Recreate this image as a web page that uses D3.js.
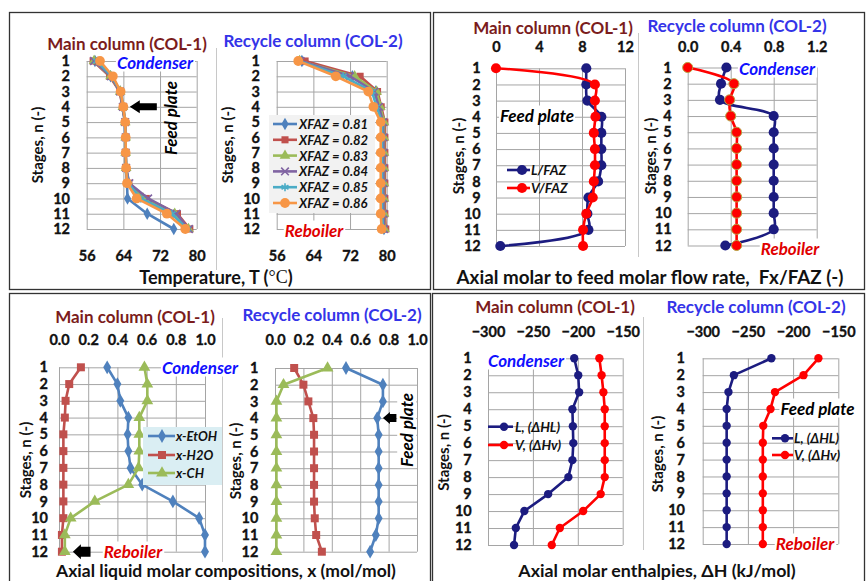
<!DOCTYPE html>
<html>
<head>
<meta charset="utf-8">
<script src="https://cdn.jsdelivr.net/npm/d3@7"></script>
<style>
  body { margin: 0; background: #fff; }
  svg { display: block; font-family: Lato, "Open Sans", sans-serif; font-weight: bold; }
</style>
</head>
<body>
<div id="chart"></div>
<script>
const stages = [1, 2, 3, 4, 5, 6, 7, 8, 9, 10, 11, 12];

// temperature profiles, one list per feed composition
const xfazNames = ["XFAZ = 0.81", "XFAZ = 0.82", "XFAZ = 0.83", "XFAZ = 0.84", "XFAZ = 0.85", "XFAZ = 0.86"];
const tempCol1 = [
  [57.8, 61.2, 63.3, 63.8, 64.3, 64.4, 64.4, 64.5, 64.8, 64.9, 69.2, 75.0],
  [57.4, 61.0, 63.2, 63.8, 64.4, 64.5, 64.5, 64.6, 65.2, 69.0, 75.8, 78.5],
  [57.6, 61.2, 63.3, 63.9, 64.4, 64.5, 64.5, 64.6, 65.1, 68.3, 75.2, 78.2],
  [57.6, 61.3, 63.3, 63.9, 64.4, 64.5, 64.5, 64.6, 65.3, 69.4, 75.6, 78.3],
  [58.2, 61.5, 63.4, 64.0, 64.4, 64.5, 64.5, 64.6, 65.0, 67.8, 74.6, 77.9],
  [58.9, 61.7, 63.4, 64.0, 64.4, 64.5, 64.5, 64.6, 64.8, 66.9, 73.5, 77.5]
];
const tempCol2 = [
  [61.5, 72.5, 77.6, 78.5, 79.2, 79.3, 79.3, 79.3, 79.3, 79.3, 79.3, 79.4],
  [62.2, 74.2, 78.0, 78.8, 79.6, 79.6, 79.6, 79.6, 79.6, 79.6, 79.6, 79.8],
  [61.0, 73.0, 77.8, 78.6, 79.4, 79.4, 79.4, 79.4, 79.4, 79.4, 79.4, 79.5],
  [61.2, 72.0, 77.3, 78.3, 79.2, 79.3, 79.3, 79.3, 79.3, 79.3, 79.3, 79.4],
  [60.8, 70.5, 76.8, 77.8, 79.0, 79.0, 79.0, 79.0, 79.0, 79.0, 79.0, 79.2],
  [60.7, 68.9, 76.0, 77.1, 78.7, 78.7, 78.7, 78.7, 78.7, 78.7, 78.7, 78.9]
];
const tempTicks = [56, 64, 72, 80];

// flow ratios
const lFazCol1 = [8.4, 8.4, 8.5, 9.8, 9.8, 9.8, 9.8, 9.5, 8.6, 8.5, 8.6, 0.4];
const vFazCol1 = [0.0, 9.2, 9.2, 9.25, 9.1, 9.2, 9.2, 9.1, 9.0, 8.4, 8.1, 8.1];
const lFazCol2 = [0.36, 0.31, 0.30, 0.80, 0.80, 0.80, 0.80, 0.80, 0.80, 0.80, 0.80, 0.35];
const vFazCol2 = [0.0, 0.43, 0.39, 0.40, 0.455, 0.455, 0.455, 0.455, 0.455, 0.455, 0.455, 0.455];
const flowTicksCol1 = [0, 4, 8, 12];
const flowTicksCol2 = [0, 0.4, 0.8, 1.2];

// liquid compositions
const compNames = ["x-EtOH", "x-H2O", "x-CH"];
const xEtohCol1 = [0.33, 0.40, 0.42, 0.475, 0.47, 0.475, 0.49, 0.57, 0.78, 0.96, 1.0, 1.0];
const xH2oCol1 = [0.15, 0.07, 0.045, 0.04, 0.03, 0.03, 0.03, 0.03, 0.03, 0.03, 0.02, 0.02];
const xChCol1 = [0.585, 0.605, 0.605, 0.55, 0.55, 0.55, 0.545, 0.475, 0.245, 0.08, 0.04, 0.04];
const xEtohCol2 = [0.50, 0.76, 0.76, 0.72, 0.73, 0.73, 0.73, 0.73, 0.73, 0.73, 0.71, 0.67];
const xH2oCol2 = [0.135, 0.20, 0.235, 0.27, 0.275, 0.275, 0.275, 0.275, 0.275, 0.28, 0.29, 0.33];
const xChCol2 = [0.37, 0.06, 0.01, 0.01, 0.01, 0.01, 0.01, 0.01, 0.01, 0.01, 0.01, 0.01];
const compTicks = [0, 0.2, 0.4, 0.6, 0.8, 1.0];

// enthalpies
const hLCol1 = [-204, -199.5, -198.5, -206, -205.5, -205, -206, -210.5, -233, -259.5, -269, -271];
const hVCol1 = [-176, -173.5, -171.5, -170, -170, -170, -170, -170, -174.5, -194, -220, -229];
const hLCol2 = [-224, -265.5, -271.5, -273.5, -273.5, -273.5, -273.5, -273.5, -273.5, -273.5, -273.5, -273.5];
const hVCol2 = [-172, -188.5, -220, -225, -233, -233.5, -233.5, -233.5, -233.5, -233.5, -233.5, -233.5];
const hTicks = [-300, -250, -200, -150];

const officeColors = ["#4F81BD", "#C0504D", "#9BBB59", "#8064A2", "#4BACC6", "#F79646"];
const navy = "#1c1c80", red = "#ff0000";
const darkRed = "#7b1c1c", titleBlue = "#3434e8", annBlue = "#1010ff", annRed = "#e00000";
const gridColor = "#a5a5a5";
const tickFs = 14.5;

const svg = d3.select("#chart").append("svg")
  .attr("width", 866)
  .attr("height", 581);

// panel frames
[[9.5, 12.5, 421, 277], [433.5, 12.5, 431, 277], [9.5, 293.5, 421, 300], [432.5, 293.5, 432, 300]].forEach(b => {
  svg.append("rect").attr("x", b[0]).attr("y", b[1]).attr("width", b[2]).attr("height", b[3])
    .attr("fill", "none").attr("stroke", "#333").attr("stroke-width", 1.3);
});
// light separators between the two columns of each panel
[[216.5, 48, 270], [638.5, 33, 257], [222.5, 318, 562], [643.5, 317, 550]].forEach(l => {
  svg.append("line").attr("x1", l[0]).attr("x2", l[0]).attr("y1", l[1]).attr("y2", l[2])
    .attr("stroke", "#c8c8c8");
});

function subplot(o) {
  const x = d3.scaleLinear().domain(o.domain).range([o.left, o.right]);
  const y = d3.scaleLinear().domain([1, 12]).range([o.top, o.bottom]);
  const g = svg.append("g");

  // grid
  g.append("g")
    .attr("transform", `translate(0,${o.top})`)
    .call(d3.axisBottom(x).tickValues(o.ticks).tickSize(o.bottom - o.top).tickFormat(""))
    .call(s => s.select(".domain").remove())
    .selectAll("line").attr("stroke", gridColor);
  g.append("g")
    .attr("transform", `translate(${o.left},0)`)
    .call(d3.axisRight(y).tickValues(stages).tickSize(o.right - o.left).tickFormat(""))
    .call(s => s.select(".domain").remove())
    .selectAll("line").attr("stroke", gridColor);

  // x tick labels
  const pad = o.xTop ? o.top - o.labelY - 0.36 * tickFs : o.labelY - o.bottom - 0.35 * tickFs;
  const xAxis = (o.xTop ? d3.axisTop(x) : d3.axisBottom(x))
    .tickValues(o.ticks).tickSize(0).tickPadding(pad).tickFormat(o.fmt);
  g.append("g")
    .attr("transform", `translate(0,${o.xTop ? o.top : o.bottom})`)
    .call(xAxis)
    .call(s => s.select(".domain").remove())
    .attr("font-family", null).attr("font-size", tickFs)
    .selectAll("text").attr("fill", "#111").attr("stroke", "#111").attr("stroke-width", 0.35);

  // stage labels
  g.append("g")
    .attr("transform", `translate(${o.left},0)`)
    .call(d3.axisLeft(y).tickValues(stages).tickSize(0).tickPadding(o.left - o.yLabelRight))
    .call(s => s.select(".domain").remove())
    .attr("font-family", null).attr("font-size", tickFs)
    .selectAll("text").attr("fill", "#111").attr("stroke", "#111").attr("stroke-width", 0.35);

  // titles
  g.append("text")
    .attr("x", o.titleX).attr("y", o.titleY)
    .attr("text-anchor", "middle").attr("dominant-baseline", "central")
    .attr("font-size", 17).attr("fill", o.titleColor)
    .text(o.title);
  g.append("text")
    .attr("transform", `translate(${o.yTitleX},${o.yTitleY}) rotate(-90)`)
    .attr("text-anchor", "middle").attr("dominant-baseline", "central")
    .attr("font-size", 15).attr("fill", "#111")
    .text("Stages, n (-)");

  return { g, x, y };
}

function series(p, values, color, symbolType, symbolSize, opts = {}) {
  const pts = values.map((v, i) => ({ v, s: stages[i] }));
  const line = d3.line()
    .x(d => p.x(d.v)).y(d => p.y(d.s))
    .curve(opts.smooth ? d3.curveCatmullRom.alpha(0.5) : d3.curveLinear);
  p.g.append("path").datum(pts)
    .attr("d", line)
    .attr("fill", "none").attr("stroke", color).attr("stroke-width", opts.lw || 2.6)
    .attr("stroke-linejoin", "round");
  const stroked = symbolType === d3.symbolX || symbolType === d3.symbolAsterisk;
  p.g.selectAll(null).data(pts).enter().append("path")
    .attr("transform", d => `translate(${p.x(d.v)},${p.y(d.s)})`)
    .attr("d", d3.symbol().type(symbolType).size(symbolSize))
    .attr("fill", stroked ? "none" : color)
    .attr("stroke", stroked ? color : (opts.edge || "none"))
    .attr("stroke-width", stroked ? 1.6 : 1);
}

function note(text, cx, cy, color, opts = {}) {
  const g = svg.append("g").attr("transform", `translate(${cx},${cy}) rotate(${opts.rotate || 0})`);
  const bg = g.append("rect").attr("fill", "#fff");
  const t = g.append("text")
    .attr("text-anchor", "middle").attr("dominant-baseline", "central")
    .attr("font-size", opts.fs || 17).attr("font-style", "italic").attr("fill", color)
    .text(text);
  const b = t.node().getBBox();
  if (opts.bg !== false) {
    bg.attr("x", b.x - 1).attr("y", b.y + 1).attr("width", b.width + 2).attr("height", b.height - 2);
  }
}

function arrow(xTip, xTail, yc, headLen, headH, shaftH) {
  const d = d3.path();
  d.moveTo(xTip, yc);
  d.lineTo(xTip + headLen, yc - headH / 2);
  d.lineTo(xTip + headLen, yc - shaftH / 2);
  d.lineTo(xTail, yc - shaftH / 2);
  d.lineTo(xTail, yc + shaftH / 2);
  d.lineTo(xTip + headLen, yc + shaftH / 2);
  d.lineTo(xTip + headLen, yc + headH / 2);
  d.closePath();
  svg.append("path").attr("d", d.toString()).attr("fill", "#000");
}

function legend(items, box, x0, x1, mx, lx, ys, fs) {
  const g = svg.append("g");
  if (box) {
    g.append("rect").attr("x", box[0]).attr("y", box[1]).attr("width", box[2]).attr("height", box[3])
      .attr("fill", box[4]);
  }
  items.forEach((it, i) => {
    g.append("line").attr("x1", x0).attr("x2", x1).attr("y1", ys[i]).attr("y2", ys[i])
      .attr("stroke", it.color).attr("stroke-width", 2.6);
    const stroked = it.type === d3.symbolX || it.type === d3.symbolAsterisk;
    g.append("path")
      .attr("transform", `translate(${mx},${ys[i]})`)
      .attr("d", d3.symbol().type(it.type).size(it.size))
      .attr("fill", stroked ? "none" : it.color)
      .attr("stroke", stroked ? it.color : (it.edge || "none"))
      .attr("stroke-width", stroked ? 1.6 : 1);
    g.append("text")
      .attr("x", lx).attr("y", ys[i])
      .attr("dominant-baseline", "central")
      .attr("font-size", fs).attr("font-style", "italic").attr("fill", "#111")
      .text(it.name);
  });
}

function axisTitle(text, cx, cy, fs) {
  return svg.append("text").attr("x", cx).attr("y", cy)
    .attr("text-anchor", "middle").attr("dominant-baseline", "central")
    .attr("font-size", fs).attr("fill", "#111").attr("xml:space", "preserve")
    .text(text);
}

const xfazSymbols = [d3.symbolDiamond, d3.symbolSquare, d3.symbolTriangle, d3.symbolX, d3.symbolAsterisk, d3.symbolCircle];
const xfazSizes = [45, 50, 50, 40, 45, 75];

// ---- temperature ----
const t1 = subplot({
  left: 86.7, right: 196.7, top: 61, bottom: 229, domain: [56, 80], ticks: tempTicks,
  fmt: d3.format("d"), xTop: false, labelY: 256, yLabelRight: 70,
  title: "Main column (COL-1)", titleColor: darkRed, titleX: 127, titleY: 43,
  yTitleX: 37, yTitleY: 145
});
tempCol1.forEach((vals, i) => series(t1, vals, officeColors[i], xfazSymbols[i], xfazSizes[i]));
note("Condenser", 155, 62, annBlue);
note("Feed plate", 170, 118, "#000", { rotate: -90, bg: false });
arrow(t1.x(65.4), t1.x(71.3), t1.y(4), 10, 13, 7);

const t2 = subplot({
  left: 276.7, right: 386.7, top: 61, bottom: 229, domain: [56, 80], ticks: tempTicks,
  fmt: d3.format("d"), xTop: false, labelY: 256, yLabelRight: 260,
  title: "Recycle column (COL-2)", titleColor: titleBlue, titleX: 313, titleY: 40,
  yTitleX: 227, yTitleY: 145
});
tempCol2.forEach((vals, i) => series(t2, vals, officeColors[i], xfazSymbols[i], xfazSizes[i]));
legend(xfazNames.map((n, i) => ({ name: n, color: officeColors[i], type: xfazSymbols[i], size: xfazSizes[i] })),
  [269, 115, 106, 98, "#f2f2f2"], 273, 297, 285, 299, d3.range(6).map(i => 124 + i * 15.8), 13);
note("Reboiler", 314, 230, annRed);

const tTitle = axisTitle("", 216, 277, 18);
tTitle.append("tspan").text("Temperature, T (");
tTitle.append("tspan").attr("font-family", "'Liberation Serif', serif").attr("font-weight", "normal").text("°C");
tTitle.append("tspan").text(")");

// ---- flow ratios ----
const f1 = subplot({
  left: 496, right: 625, top: 68.3, bottom: 246, domain: [0, 12], ticks: flowTicksCol1,
  fmt: d3.format("d"), xTop: true, labelY: 47, yLabelRight: 480.7,
  title: "Main column (COL-1)", titleColor: darkRed, titleX: 553, titleY: 27,
  yTitleX: 458, yTitleY: 156
});
series(f1, lFazCol1, navy, d3.symbolCircle, 80, { smooth: true });
series(f1, vFazCol1, red, d3.symbolCircle, 80, { smooth: true });
note("Feed plate", 537, 115, "#000");
legend([{ name: "L/FAZ", color: navy, type: d3.symbolCircle, size: 80 },
        { name: "V/FAZ", color: red, type: d3.symbolCircle, size: 80 }],
  null, 507, 530, 522, 531, [170, 188], 13.5);

const f2 = subplot({
  left: 687.7, right: 816.7, top: 67.5, bottom: 245.5, domain: [0, 1.2], ticks: flowTicksCol2,
  fmt: d3.format(".1f"), xTop: true, labelY: 47, yLabelRight: 671.7,
  title: "Recycle column (COL-2)", titleColor: titleBlue, titleX: 737, titleY: 25,
  yTitleX: 650, yTitleY: 156
});
series(f2, lFazCol2, navy, d3.symbolCircle, 80, { smooth: true });
series(f2, vFazCol2, red, d3.symbolCircle, 80, { smooth: true, edge: "#b8a040" });
note("Condenser", 777, 68, annBlue);
note("Reboiler", 790, 248, annRed);

axisTitle("Axial molar to feed molar flow rate,  Fx/FAZ (-)", 650, 276, 18.8);

// ---- compositions ----
const compColors = ["#4F81BD", "#C0504D", "#9BBB59"];
const compSymbols = [d3.symbolDiamond, d3.symbolSquare, d3.symbolTriangle];
const compSizes = [55, 64, 60];

const c1 = subplot({
  left: 59, right: 205, top: 367.3, bottom: 551.7, domain: [0, 1], ticks: compTicks,
  fmt: d3.format(".1f"), xTop: true, labelY: 340, yLabelRight: 48,
  title: "Main column (COL-1)", titleColor: darkRed, titleX: 135, titleY: 316,
  yTitleX: 25, yTitleY: 460
});
[xEtohCol1, xH2oCol1, xChCol1].forEach((vals, i) => series(c1, vals, compColors[i], compSymbols[i], compSizes[i]));
legend(compNames.map((n, i) => ({ name: n, color: compColors[i], type: compSymbols[i], size: compSizes[i] })),
  [143, 427, 79, 58, "#daeef3"], 148, 175, 162, 176, [436, 455, 473], 13);
note("Condenser", 200, 367, annBlue);
note("Reboiler", 133, 551, annRed);
arrow(c1.x(0.095), c1.x(0.216), c1.y(12), 8, 15, 10);

const c2 = subplot({
  left: 275, right: 417, top: 368, bottom: 551.7, domain: [0, 1], ticks: compTicks,
  fmt: d3.format(".1f"), xTop: true, labelY: 340, yLabelRight: 258.3,
  title: "Recycle column (COL-2)", titleColor: titleBlue, titleX: 332, titleY: 314,
  yTitleX: 235, yTitleY: 461
});
[xEtohCol2, xH2oCol2, xChCol2].forEach((vals, i) => series(c2, vals, compColors[i], compSymbols[i], compSizes[i]));
note("Feed plate", 406.7, 430, "#000", { rotate: -90 });
arrow(c2.x(0.76), c2.x(0.855), c2.y(4), 7, 12, 8);

axisTitle("Axial liquid molar compositions, x (mol/mol)", 226, 570, 17.5);

// ---- enthalpies ----
const h1 = subplot({
  left: 488, right: 622.7, top: 358.3, bottom: 545, domain: [-300, -150], ticks: hTicks,
  fmt: d3.format("d"), xTop: true, labelY: 331.7, yLabelRight: 471.7,
  title: "Main column (COL-1)", titleColor: darkRed, titleX: 555, titleY: 306.7,
  yTitleX: 443, yTitleY: 452.5
});
series(h1, hLCol1, navy, d3.symbolCircle, 55);
series(h1, hVCol1, red, d3.symbolCircle, 55);
note("Condenser", 526, 360, annBlue);
legend([{ name: "L, (ΔHL)", color: navy, type: d3.symbolCircle, size: 55 },
        { name: "V, (ΔHv)", color: red, type: d3.symbolCircle, size: 55 }],
  null, 488, 513, 504, 515, [426.7, 445], 13.5);

const h2 = subplot({
  left: 702.7, right: 838.3, top: 358.3, bottom: 544, domain: [-300, -150], ticks: hTicks,
  fmt: d3.format("d"), xTop: true, labelY: 331.7, yLabelRight: 685,
  title: "Recycle column (COL-2)", titleColor: titleBlue, titleX: 756, titleY: 306,
  yTitleX: 656.7, yTitleY: 454
});
series(h2, hLCol2, navy, d3.symbolCircle, 55);
series(h2, hVCol2, red, d3.symbolCircle, 55);
note("Feed plate", 817.5, 408, "#000");
note("Reboiler", 805, 543, annRed);
legend([{ name: "L, (ΔHL)", color: navy, type: d3.symbolCircle, size: 55 },
        { name: "V, (ΔHv)", color: red, type: d3.symbolCircle, size: 55 }],
  null, 772, 793, 785, 794, [438.3, 455], 13.5);

axisTitle("Axial molar enthalpies, ΔH (kJ/mol)", 657, 570, 17.8);
</script>
</body>
</html>
